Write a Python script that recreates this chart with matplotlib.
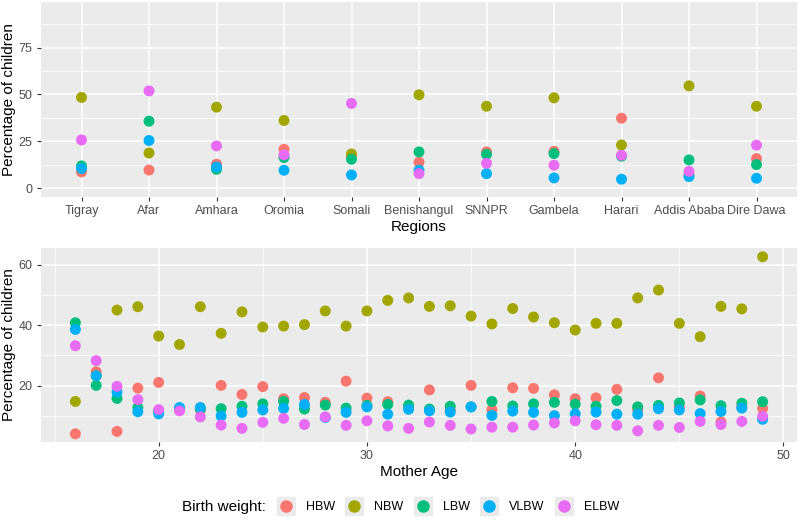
import numpy as np
import matplotlib
matplotlib.use("Agg")
from matplotlib import pyplot as plt
from matplotlib.lines import Line2D

plt.rcParams['font.family'] = ['Liberation Sans', 'DejaVu Sans']

groups = ['HBW', 'NBW', 'LBW', 'VLBW', 'ELBW']
colors = ['#F8766D', '#A3A500', '#00BF7D', '#00B0F6', '#E76BF3']

# ---- region panel data ----
regions = ['Tigray', 'Afar', 'Amhara', 'Oromia', 'Somali', 'Benishangul',
           'SNNPR', 'Gambela', 'Harari', 'Addis Ababa', 'Dire Dawa']
reg_hbw = [8.6, 9.6, 12.7, 20.7, 17.0, 13.8, 19.3, 19.6, 37.3, 7.0, 15.7]
reg_nbw = [48.4, 18.7, 43.2, 36.1, 18.2, 49.8, 43.7, 48.2, 23.0, 54.6, 43.7]
reg_lbw = [11.8, 35.7, 10.0, 16.3, 15.4, 19.3, 18.0, 18.4, 17.0, 15.0, 12.5]
reg_vlbw = [10.4, 25.4, 11.2, 9.5, 7.0, 9.5, 7.7, 5.4, 4.7, 6.1, 5.2]
reg_elbw = [25.7, 51.9, 22.5, 17.7, 45.2, 7.7, 13.2, 12.2, 17.5, 8.9, 22.9]

# ---- mother age panel data ----
ages = list(range(16, 50))
age_hbw = [4.1, 24.6, 4.9, 19.2, 21.1, 12.0, 12.0, 20.1, 17.1, 19.7, 15.7, 16.1,
           14.5, 21.5, 15.9, 14.7, 13.0, 18.6, 12.0, 20.1, 12.1, 19.3, 19.1, 17.0,
           15.7, 16.0, 18.8, 12.1, 22.6, 13.0, 16.6, 8.0, 13.0, 12.5]
age_nbw = [14.8, 23.3, 45.0, 46.1, 36.4, 33.6, 46.1, 37.3, 44.4, 39.4, 39.7, 40.2,
           44.7, 39.7, 44.7, 48.2, 49.0, 46.2, 46.4, 43.0, 40.4, 45.5, 42.7, 40.8,
           38.4, 40.6, 40.6, 49.0, 51.6, 40.6, 36.2, 46.2, 45.4, 62.6]
age_lbw = [40.8, 20.1, 15.8, 12.8, 11.5, 12.5, 12.3, 12.4, 13.2, 14.0, 14.8, 12.3,
           13.6, 12.6, 13.5, 13.8, 13.6, 12.3, 13.2, 13.0, 14.8, 13.3, 14.0, 14.5,
           13.9, 13.2, 15.1, 13.0, 13.5, 14.3, 15.3, 13.4, 14.2, 14.7]
age_vlbw = [38.6, 23.3, 17.9, 11.4, 10.7, 12.8, 12.8, 10.0, 11.2, 12.0, 12.5, 13.8,
            9.5, 11.2, 13.0, 10.6, 12.2, 11.7, 11.3, 13.0, 10.2, 11.6, 11.2, 10.1,
            10.7, 11.3, 10.6, 10.6, 12.4, 12.0, 10.8, 11.5, 12.6, 8.9]
age_elbw = [33.2, 28.3, 19.8, 15.4, 12.1, 11.7, 9.7, 7.0, 5.9, 7.9, 9.2, 7.2,
            9.7, 6.9, 8.4, 6.7, 5.9, 8.0, 6.9, 5.7, 6.3, 6.3, 7.0, 7.7,
            8.4, 7.1, 6.9, 5.1, 6.9, 6.2, 8.2, 7.2, 8.2, 9.9]

reg_series = [reg_hbw, reg_nbw, reg_lbw, reg_vlbw, reg_elbw]
age_series = [age_hbw, age_nbw, age_lbw, age_vlbw, age_elbw]

W, H = 800, 521
fig = plt.figure(figsize=(W / 100, H / 100), dpi=100)
ax1 = fig.add_axes([41 / W, 1 - 197 / H, 756 / W, 195 / H])
ax2 = fig.add_axes([41 / W, 1 - 442 / H, 756 / W, 194 / H])


def gg_style(ax):
    ax.set_facecolor('#EBEBEB')
    for s in ax.spines.values():
        s.set_visible(False)
    ax.grid(True, which='major', color='white', linewidth=1.1, zorder=0)
    ax.grid(True, which='minor', color='white', linewidth=0.55, zorder=0)
    ax.set_axisbelow(True)
    ax.tick_params(which='major', length=3, width=0.8, color='#333333',
                   labelcolor='#4D4D4D', labelsize=9, pad=3)
    ax.tick_params(which='minor', length=0)


x_reg = np.arange(1, len(regions) + 1)
for vals, c in zip(reg_series, colors):
    ax1.scatter(x_reg, vals, s=62, color=c, edgecolors='none', zorder=3)
ax1.set_xticks(x_reg)
ax1.set_xticklabels(regions)
ax1.set_xlim(0.4, 11.6)
ax1.set_ylim(-4.8, 99.4)
ax1.set_yticks([0, 25, 50, 75])
ax1.set_yticks([12.5, 37.5, 62.5, 87.5], minor=True)
gg_style(ax1)
ax1.set_xlabel('Regions', fontsize=11, labelpad=2)
ax1.set_ylabel('Percentage of children', fontsize=11, va='center')
ax1.yaxis.set_label_coords(-32 / 756, 0.5)

for vals, c in zip(age_series, colors):
    ax2.scatter(ages, vals, s=62, color=c, edgecolors='none', zorder=3)
ax2.set_xlim(14.35, 50.65)
ax2.set_ylim(1.4, 65.5)
ax2.set_xticks([20, 30, 40, 50])
ax2.set_xticks([15, 25, 35, 45], minor=True)
ax2.set_yticks([20, 40, 60])
ax2.set_yticks([10, 30, 50], minor=True)
gg_style(ax2)
ax2.set_xlabel('Mother Age', fontsize=11, labelpad=2)
ax2.set_ylabel('Percentage of children', fontsize=11, va='center')
ax2.yaxis.set_label_coords(-32 / 756, 0.5)

# legend at the bottom with grey key boxes
handles = []
for c in colors:
    box = Line2D([], [], marker='s', markersize=13, color='#EBEBEB', linestyle='')
    dot = Line2D([], [], marker='o', markersize=8, color=c, linestyle='')
    handles.append((box, dot))
fig.text(182 / W, 1 - 507 / H, 'Birth weight:', fontsize=11, va='center', ha='left')
fig.legend(handles, groups, loc='center left', bbox_to_anchor=(277 / W, 1 - 507 / H),
           ncol=5, frameon=False, fontsize=9, handlelength=1.4, handletextpad=0.9,
           columnspacing=0.85, borderpad=0, borderaxespad=0)

fig.savefig('out.png', dpi=100)
